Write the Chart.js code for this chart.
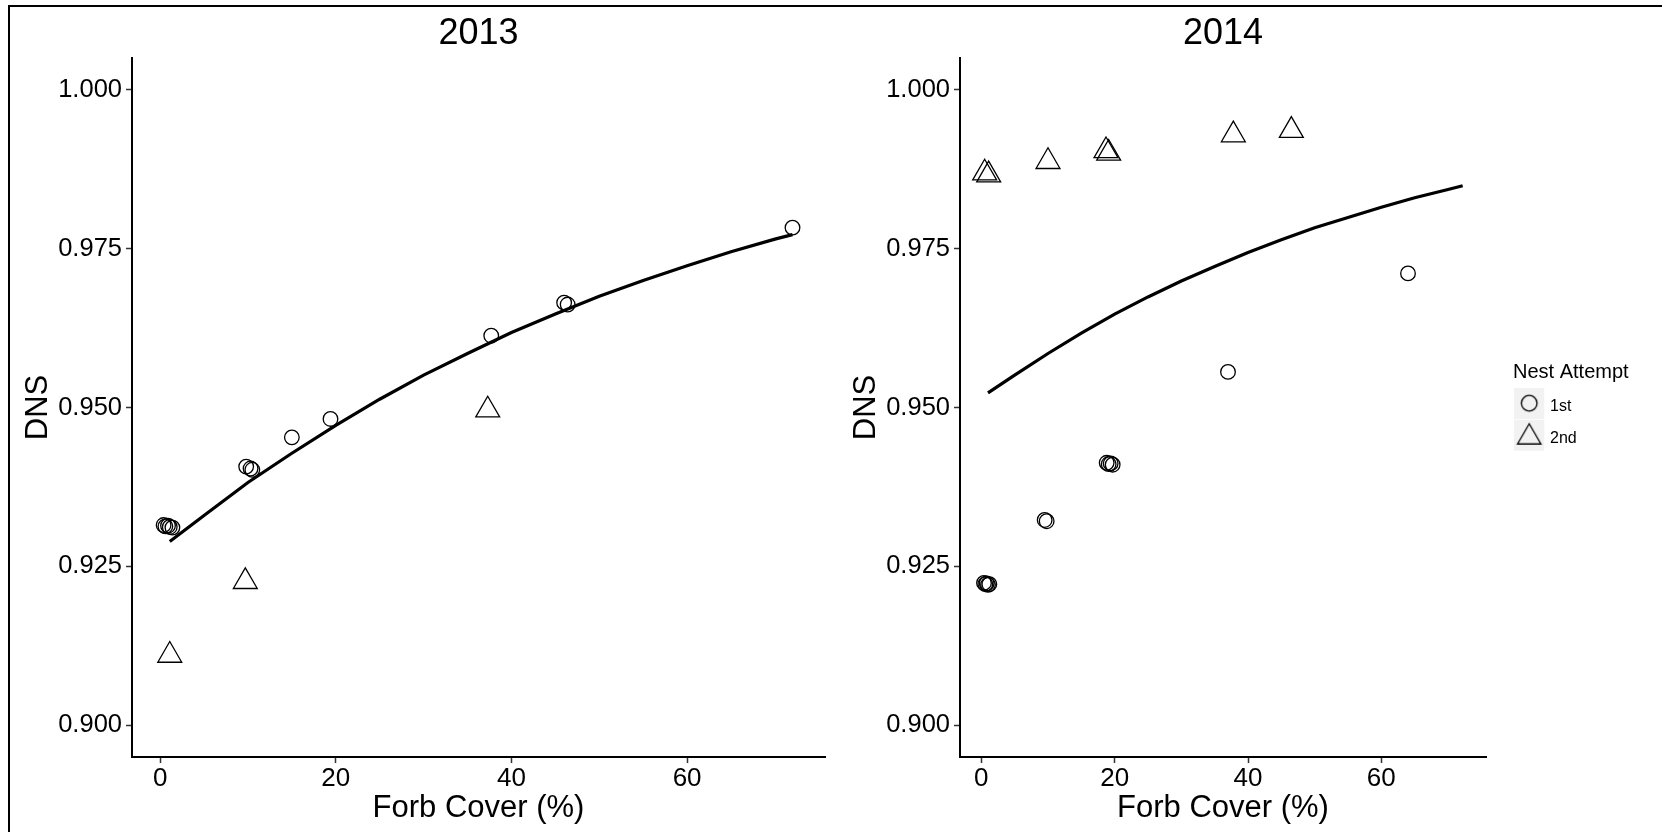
<!DOCTYPE html>
<html>
<head>
<meta charset="utf-8">
<title>DNS vs Forb Cover</title>
<script src="https://cdn.jsdelivr.net/npm/chart.js@4/dist/chart.umd.min.js"></script>
<style>
  html, body { margin: 0; padding: 0; background: #fff; }
  #wrap { position: relative; width: 1662px; height: 832px; overflow: hidden; background: #fff; }
  #wrap canvas { position: absolute; top: 0; }
  #c2013 { left: 0; }
  #c2014 { left: 830px; }
  #frame { position: absolute; left: 8px; top: 5px; right: 0; bottom: 0;
           border-top: 2px solid #000; border-left: 2px solid #000; pointer-events: none; }
</style>
</head>
<body>
<div id="wrap">
  <canvas id="c2013" width="830" height="832"></canvas>
  <canvas id="c2014" width="832" height="832"></canvas>
  <div id="frame"></div>
</div>
<script>
const FONT = "'Liberation Sans', Arial, sans-serif";

// Shared axes
const xTicks = [0, 20, 40, 60];
const yTicks = [0.900, 0.925, 0.950, 0.975, 1.000];
const xRange = [-3.2, 75.7];
const yRange = [0.895, 1.005];

// 2013 – first nest attempts
const cover2013First = [0.4, 0.6, 0.9, 1.1, 1.4, 9.8, 10.3, 10.5, 15.0, 19.4, 37.7, 46.0, 46.4, 72.0];
const dns2013First   = [0.9315, 0.9313, 0.9314, 0.9312, 0.9311, 0.9407, 0.9404, 0.9402, 0.9453, 0.9482, 0.9613, 0.9665, 0.9662, 0.9783];
// 2013 – second nest attempts
const cover2013Second = [1.1, 9.7, 37.3];
const dns2013Second   = [0.9110, 0.9226, 0.9496];
// 2013 – fitted curve
const fitCover2013 = [1.1, 5, 10, 15, 20, 25, 30, 35, 40, 45, 50, 55, 60, 65, 70, 72.0];
const fitDns2013   = [0.9289, 0.9330, 0.9382, 0.9428, 0.9472, 0.9513, 0.9551, 0.9585, 0.9618, 0.9647, 0.9675, 0.9700, 0.9723, 0.9745, 0.9765, 0.9772];

// 2014 – first nest attempts
const cover2014First = [0.4, 0.6, 0.8, 1.0, 1.2, 9.5, 9.8, 18.8, 19.1, 19.4, 19.7, 37.0, 64.0];
const dns2014First   = [0.9224, 0.9222, 0.9223, 0.9221, 0.9222, 0.9323, 0.9321, 0.9413, 0.9411, 0.9412, 0.9410, 0.9556, 0.9711];
// 2014 – second nest attempts
const cover2014Second = [0.5, 1.1, 10.0, 18.7, 19.1, 37.8, 46.5];
const dns2014Second   = [0.9869, 0.9866, 0.9887, 0.9904, 0.9900, 0.9929, 0.9936];
// 2014 – fitted curve
const fitCover2014 = [1.0, 5, 10, 15, 20, 25, 30, 35, 40, 45, 50, 55, 60, 65, 70, 72.2];
const fitDns2014   = [0.9523, 0.9551, 0.9585, 0.9617, 0.9647, 0.9674, 0.9699, 0.9722, 0.9744, 0.9764, 0.9783, 0.9799, 0.9815, 0.9830, 0.9843, 0.9849];

const legendLabels = ['1st', '2nd'];

const pairs = (xs, ys) => xs.map((x, i) => ({ x: x, y: ys[i] }));

// Legend key: grey tile with the marker drawn on it
function makeKey(shape) {
  const c = document.createElement('canvas');
  c.width = 42; c.height = 37;
  const g = c.getContext('2d');
  g.fillStyle = '#F2F2F2';
  g.fillRect(0, 0, 30, 31);
  g.strokeStyle = '#000';
  g.lineWidth = 1.3;
  g.beginPath();
  if (shape === 'circle') {
    g.arc(15, 15, 7.8, 0, Math.PI * 2);
  } else {
    const r = 13.5, cx = 15, cy = 17.5;
    for (let k = 0; k < 3; k++) {
      const a = k * 2 * Math.PI / 3;
      const px = cx + Math.sin(a) * r, py = cy - Math.cos(a) * r;
      if (k === 0) g.moveTo(px, py); else g.lineTo(px, py);
    }
    g.closePath();
  }
  g.stroke();
  return c;
}

const tickGrid = { display: true, drawOnChartArea: false, drawTicks: true, tickLength: 6,
                   tickWidth: 1.5, tickColor: '#333', color: '#333' };
const axisLine = { display: true, color: '#000', width: 2 };

function xScale() {
  return {
    type: 'linear', position: 'bottom', min: xRange[0], max: xRange[1],
    afterBuildTicks: s => { s.ticks = xTicks.map(v => ({ value: v })); },
    afterFit: s => { s.height = 75; },
    grid: tickGrid, border: axisLine,
    ticks: { font: { family: FONT, size: 26 }, color: '#000', padding: 0, maxRotation: 0,
             autoSkip: false, callback: v => String(v) },
    title: { display: true, text: 'Forb Cover (%)', font: { family: FONT, size: 31 }, color: '#000',
             padding: { top: 0, bottom: 5.4 } }
  };
}

function yScale(width, titlePad) {
  return {
    type: 'linear', position: 'left', min: yRange[0], max: yRange[1],
    afterBuildTicks: s => { s.ticks = yTicks.map(v => ({ value: v })); },
    afterFit: s => { s.width = width; },
    grid: tickGrid, border: axisLine,
    ticks: { font: { family: FONT, size: 25.5 }, color: '#000', padding: 4,
             callback: v => Number(v).toFixed(3) },
    title: { display: true, text: 'DNS', font: { family: FONT, size: 31 }, color: '#000',
             padding: { top: titlePad, bottom: 0 } }
  };
}

function datasets(c1, d1, c2, d2, fc, fd) {
  return [
    { label: 'fit', data: pairs(fc, fd), showLine: true, pointRadius: 0, borderColor: '#000',
      borderWidth: 3.2, fill: false, tension: 0 },
    { label: '1st', data: pairs(c1, d1), pointStyle: 'circle', pointRadius: 7.3,
      pointBorderColor: '#000', pointBackgroundColor: 'rgba(0,0,0,0)', pointBorderWidth: 1.3, showLine: false },
    { label: '2nd', data: pairs(c2, d2), pointStyle: 'triangle', pointRadius: 13.8,
      pointBorderColor: '#000', pointBackgroundColor: 'rgba(0,0,0,0)', pointBorderWidth: 1.3, showLine: false }
  ];
}

function panelTitle(text) {
  return { display: true, text: text, fullSize: false, color: '#000',
           font: { family: FONT, size: 36, weight: 'normal' }, padding: { top: 12.4, bottom: 2.4 } };
}

// 2013 panel
new Chart(document.getElementById('c2013'), {
  type: 'scatter',
  data: { datasets: datasets(cover2013First, dns2013First, cover2013Second, dns2013Second, fitCover2013, fitDns2013) },
  options: {
    responsive: false, animation: false, devicePixelRatio: 1,
    layout: { autoPadding: false, padding: { left: 0, right: 5, top: 0, bottom: 0 } },
    scales: { x: xScale(), y: yScale(132, 19.8) },
    plugins: { legend: { display: false }, tooltip: { enabled: false }, title: panelTitle('2013') }
  }
});

// 2014 panel with the "Nest Attempt" legend on its right
const keyIcons = [makeKey('circle'), makeKey('triangle')];
const legendFont = 16, legendPad = 15.5, keyWidth = 13.5;
const mctx = document.createElement('canvas').getContext('2d');
mctx.font = legendFont + 'px ' + FONT;
const textW = Math.max(...legendLabels.map(t => mctx.measureText(t).width));
const legendW = legendPad + keyWidth + legendFont / 2 + textW + 10;
const gapW = 27;
const padRight = 832 - 656 - gapW - legendW;

// Lets the legend title run past the narrow key column instead of being clipped
const widenLegend = {
  id: 'widenLegend',
  afterLayout(chart) {
    const lg = chart.legend;
    if (lg) { lg.right = chart.width; lg.width = lg.right - lg.left; }
  }
};

new Chart(document.getElementById('c2014'), {
  type: 'scatter',
  data: { datasets: datasets(cover2014First, dns2014First, cover2014Second, dns2014Second, fitCover2014, fitDns2014) },
  plugins: [widenLegend],
  options: {
    responsive: false, animation: false, devicePixelRatio: 1,
    layout: { autoPadding: false, padding: { left: 0, right: padRight, top: 0, bottom: 0 } },
    scales: {
      x: xScale(),
      y: yScale(130, 17.4),
      gap: { type: 'linear', position: 'right', display: true, grid: { display: false },
             ticks: { display: false }, border: { display: false },
             afterFit: s => { s.width = gapW; } }
    },
    plugins: {
      tooltip: { enabled: false },
      title: panelTitle('2014'),
      legend: {
        display: true, position: 'right', align: 'center', fullSize: false,
        title: { display: true, text: 'Nest Attempt', position: 'start', color: '#000',
                 font: { family: FONT, size: 20 }, padding: { top: 9, bottom: -3 } },
        labels: {
          usePointStyle: true, pointStyleWidth: keyWidth, padding: legendPad, color: '#000',
          font: { family: FONT, size: legendFont },
          generateLabels: () => legendLabels.map((t, i) => ({
            text: t, pointStyle: keyIcons[i], fillStyle: 'rgba(0,0,0,0)', strokeStyle: 'rgba(0,0,0,0)',
            lineWidth: 0, hidden: false, datasetIndex: i + 1, fontColor: '#000'
          }))
        }
      }
    }
  }
});
</script>
</body>
</html>
